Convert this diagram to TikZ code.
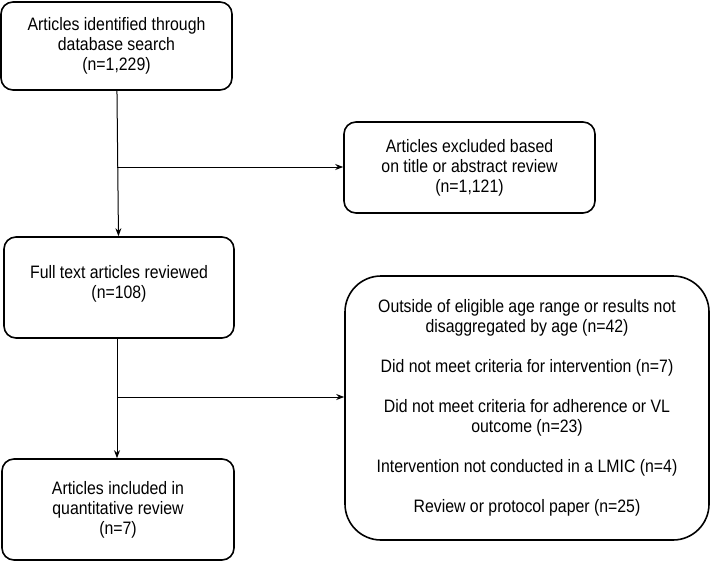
\documentclass[tikz,border=0pt]{standalone}
\usepackage{fontspec}
\setmainfont{Liberation Sans}[FakeStretch=0.88]
\usetikzlibrary{arrows.meta}
\begin{document}
\begin{tikzpicture}[x=1pt,y=-1pt,
	box/.style={draw, line width=1.6pt, rounded corners=12pt, align=center, inner sep=0pt, font=\fontsize{18}{20}\selectfont},
	arrow/.style={line width=1pt, -{Stealth[length=8pt,width=6pt]}}]
	\useasboundingbox (0,0) rectangle (711,562);
	% boxes
	\node[box, minimum width=231pt, minimum height=88pt] (ident) at (116.5,46) {Articles identified through\\database search\\(n=1,229)};
	\node[box, minimum width=251pt, minimum height=91pt] (excl) at (469.5,167.5) {Articles excluded based\\on title or abstract review\\(n=1,121)};
	\node[box, minimum width=230pt, minimum height=101pt] (full) at (119,287.5) {};
	\node[align=center, font=\fontsize{18}{20}\selectfont] (fulltxt) at (119,284) {Full text articles reviewed\\(n=108)};
	\node[box, rounded corners=36pt, minimum width=364pt, minimum height=264pt] (reasons) at (527,408) {Outside of eligible age range or results not\\disaggregated by age (n=42)\\[20pt]Did not meet criteria for intervention (n=7)\\[20pt]Did not meet criteria for adherence or VL\\outcome (n=23)\\[20pt]Intervention not conducted in a LMIC (n=4)\\[20pt]Review or protocol paper (n=25)};
	\node[box, minimum width=232pt, minimum height=101pt] (incl) at (118,509.5) {Articles included in\\quantitative review\\(n=7)};
	% connectors
	\coordinate (s1) at (117,167);
	\coordinate (s2) at (117,397);
	\draw[arrow] (ident) -- (full);
	\draw[arrow] (s1) -- (excl.west |- s1);
	\draw[arrow] (full.south -| s2) -- (incl.north -| s2);
	\draw[arrow] (s2) -- (reasons.west |- s2);
\end{tikzpicture}
\end{document}
